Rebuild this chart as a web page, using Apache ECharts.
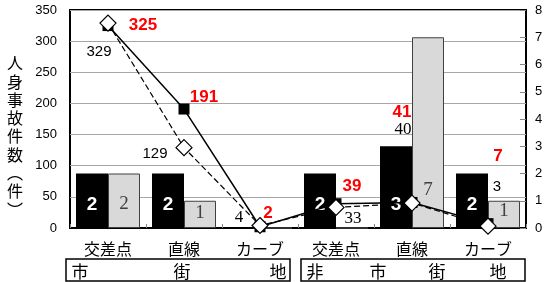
<!DOCTYPE html>
<html>
<head>
<meta charset="utf-8">
<script src="https://cdn.jsdelivr.net/npm/echarts@6/dist/echarts.min.js"></script>
<style>
  html, body { margin: 0; padding: 0; background: #fff; }
  #chart { width: 555px; height: 282px; }
</style>
</head>
<body>
<div id="chart"></div>
<script>
const categories = ['交差点', '直線', 'カーブ', '交差点', '直線', 'カーブ']
const blackBars = [2, 2, 0, 2, 3, 2]
const grayBars = [2, 1, 0, 0, 7, 1]
const solidLine = [325, 191, 2, 39, 41, 7]
const dashedLine = [329, 129, 4, 33, 40, 3]
const leftTicks = [0, 50, 100, 150, 200, 250, 300, 350]
const rightTicks = [0, 1, 2, 3, 4, 5, 6, 7, 8]

// hand placed labels, as in the original sheet
const solidOffsets = [[35, 0], [20, -12], [8, -13], [16, -17], [-10, -90], [10, -67]]
const dashedOffsets = [[-9, 29], [-29, 6], [-21, -8], [17, 11], [-9, -74], [9, -39]]
const dashedSerif = [false, false, true, true, true, false]
const grayDist = [14, 5, 0, 0, 28, 7]

const jp = '"Noto Sans CJK JP", sans-serif'
const num = '"Liberation Sans", Arial, sans-serif'
const serif = '"Liberation Serif", serif'

const chart = echarts.init(document.getElementById('chart'))

const option = {
  animation: false,
  backgroundColor: '#fff',
  grid: {
    left: 70, right: 29, top: 10, bottom: 54,
    show: true, borderColor: '#000', borderWidth: 2
  },
  xAxis: {
    type: 'category',
    data: categories,
    axisLine: { lineStyle: { color: '#000', width: 2 } },
    axisTick: { show: true, inside: true, length: 4, lineStyle: { color: '#888' } },
    axisLabel: { color: '#000', fontFamily: jp, fontSize: 16, margin: 13 }
  },
  yAxis: [
    {
      type: 'value',
      min: leftTicks[0], max: leftTicks[leftTicks.length - 1], interval: 50,
      axisLine: { show: false },
      axisTick: { show: false },
      splitLine: { lineStyle: { color: '#a6a6a6', width: 1 } },
      axisLabel: { color: '#000', fontFamily: num, fontSize: 13, margin: 13 }
    },
    {
      type: 'value',
      min: rightTicks[0], max: rightTicks[rightTicks.length - 1], interval: 1,
      axisLine: { show: false },
      axisTick: { show: true, inside: true, length: 6, lineStyle: { color: '#888' } },
      splitLine: { show: false },
      axisLabel: { color: '#000', fontFamily: num, fontSize: 13, margin: 9 }
    }
  ],
  series: [
    {
      name: '黒',
      type: 'bar',
      yAxisIndex: 1,
      barWidth: 32,
      barGap: '0%',
      data: blackBars,
      itemStyle: { color: '#000' },
      label: {
        show: true, position: 'insideBottom', distance: 14,
        color: '#fff', fontWeight: 'bold', fontSize: 19, fontFamily: num,
        formatter: (p) => (p.value ? p.value : '')
      }
    },
    {
      name: '灰',
      type: 'bar',
      yAxisIndex: 1,
      barWidth: 32,
      data: grayBars.map((v, i) => ({
        value: v,
        label: { distance: grayDist[i] }
      })),
      itemStyle: { color: '#d9d9d9', borderColor: '#404040', borderWidth: 1 },
      label: {
        show: true, position: 'insideBottom',
        color: '#404040', fontSize: 19, fontFamily: serif,
        formatter: (p) => (p.value ? p.value : '')
      }
    },
    {
      name: '実線',
      type: 'line',
      yAxisIndex: 0,
      z: 5,
      symbol: 'rect',
      symbolSize: 11,
      lineStyle: { color: '#000', width: 1.5 },
      itemStyle: { color: '#000' },
      data: solidLine.map((v, i) => ({
        value: v,
        label: { offset: solidOffsets[i] }
      })),
      label: {
        show: true, position: 'inside',
        color: '#ff0000', fontWeight: 'bold', fontSize: 17, fontFamily: num
      }
    },
    {
      name: '破線',
      type: 'line',
      yAxisIndex: 0,
      z: 6,
      symbol: 'diamond',
      symbolSize: 16,
      lineStyle: { color: '#000', width: 1.2, type: [6, 3] },
      itemStyle: { color: '#fff', borderColor: '#000', borderWidth: 1.2 },
      data: dashedLine.map((v, i) => ({
        value: v,
        label: {
          offset: dashedOffsets[i],
          fontFamily: dashedSerif[i] ? serif : num,
          fontSize: dashedSerif[i] ? 17 : 15
        }
      })),
      label: {
        show: true, position: 'inside',
        color: '#000', fontSize: 15, fontFamily: num
      }
    }
  ],
  graphic: [
    {
      type: 'text',
      left: 7, top: 54,
      style: {
        text: '人\n身\n事\n故\n件\n数\n︵\n件\n︶',
        font: '16px "Noto Sans CJK JP"',
        lineHeight: 18.3,
        fill: '#000',
        align: 'left'
      }
    },
    {
      type: 'rect',
      shape: { x: 66, y: 259, width: 224, height: 22 },
      style: { fill: 'none', stroke: '#000', lineWidth: 1.5 }
    },
    {
      type: 'rect',
      shape: { x: 301, y: 259, width: 224, height: 22 },
      style: { fill: 'none', stroke: '#000', lineWidth: 1.5 }
    },
    ...[['市', 80], ['街', 182], ['地', 278], ['非', 315], ['市', 378], ['街', 437], ['地', 498]].map(([t, x]) => ({
      type: 'text',
      x: x, y: 272,
      style: {
        text: t, font: '17px "Noto Sans CJK JP"', fill: '#000',
        align: 'center', verticalAlign: 'middle'
      }
    }))
  ]
}

chart.setOption(option)
</script>
</body>
</html>
